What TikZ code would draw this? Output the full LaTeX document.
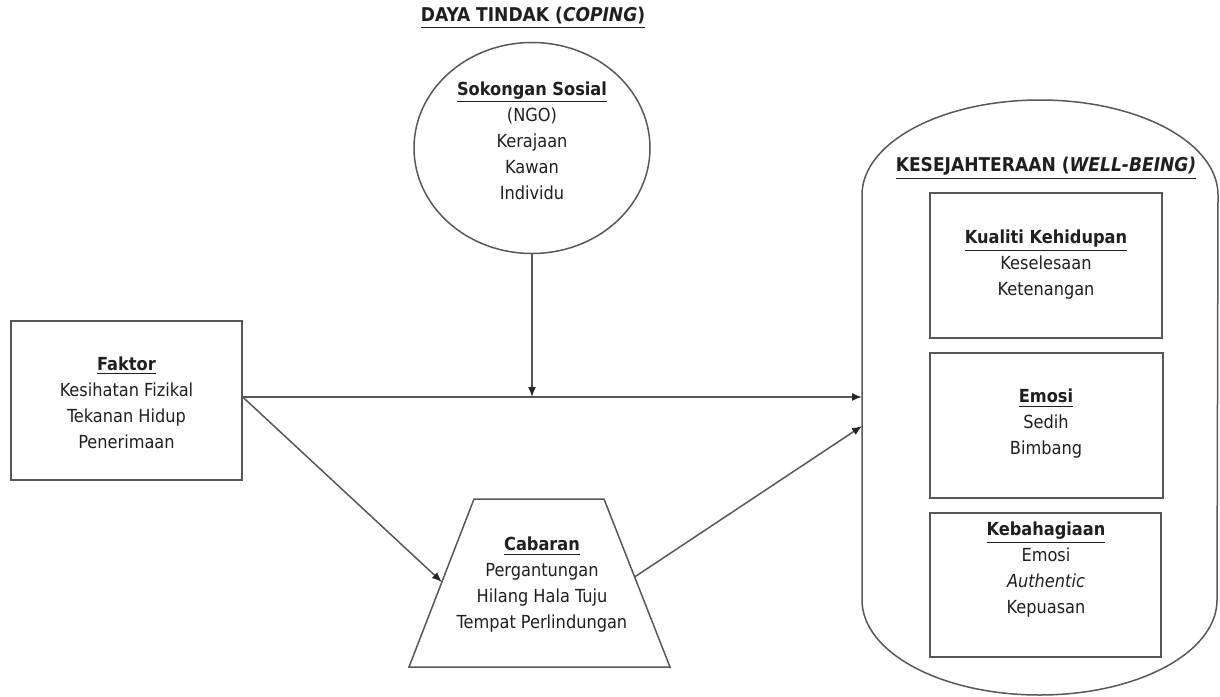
\documentclass[tikz,border=0pt]{standalone}
\usepackage{fontspec}
\setmainfont{DejaVu Sans Condensed}[BoldFont={DejaVu Sans Condensed Bold},ItalicFont={DejaVu Sans Condensed Oblique},BoldItalicFont={DejaVu Sans Condensed Bold Oblique}]
\usetikzlibrary{shapes.geometric,arrows.meta,calc}
\begin{document}
\begin{tikzpicture}[x=0.5pt,y=-0.5pt,
  line/.style={draw=black!66,line width=0.75pt},
  arr/.style={line,-{Latex[length=5pt,width=4pt,color=black!85]}},
  txt/.style={align=center,text=black!88,font=\fontsize{9}{13}\selectfont,inner sep=0pt},
  head/.style={txt,font=\fontsize{9.5}{13}\selectfont\bfseries},
  box/.style={line,rectangle,inner sep=0pt}]
\useasboundingbox (0,0) rectangle (1220,696);
% title
\node[head] (title) at (533,18) {\underline{DAYA TINDAK (\textit{COPING})}};
% social support circle
\node[line,ellipse,minimum width=118pt,minimum height=105.5pt,inner sep=0pt] (sok) at (532,148) {};
\node[txt] (soktxt) at (532,140.5) {\textbf{\underline{Sokongan Sosial}}\\(NGO)\\Kerajaan\\Kawan\\Individu};
% factor box
\node[box,minimum width=115.5pt,minimum height=79.5pt] (fak) at (126.5,400.5) {};
\node[txt] (faktxt) at (126.5,402.5) {\textbf{\underline{Faktor}}\\Kesihatan Fizikal\\Tekanan Hidup\\Penerimaan};
% trapezoid
\coordinate (tl) at (474,499);
\coordinate (tr) at (604,499);
\coordinate (br) at (670,667);
\coordinate (bl) at (409,667);
\draw[line] (tl) -- (tr) -- (br) -- (bl) -- cycle;
\node[txt] (cab) at (542,585) {\textbf{\underline{Cabaran}}\\Pergantungan\\Hilang Hala Tuju\\Tempat Perlindungan};
\coordinate (cabL) at ($(tl)!0.494!(bl)$);
\coordinate (cabR) at ($(tr)!0.464!(br)$);
% well-being container
\draw[line] (862,600) -- (862,195) arc[start angle=180,end angle=0,x radius=89pt,y radius=47.5pt] -- (1217,600) arc[start angle=0,end angle=-180,x radius=88.75pt,y radius=47.5pt] -- cycle;
\coordinate (wbA) at (862,397);
\coordinate (wbB) at (862,426);
\node[head] (wbt) at (1046,168) {\underline{KESEJAHTERAAN (\textit{WELL-BEING)}}};
% inner boxes
\node[box,minimum width=116pt,minimum height=72.5pt] (b1) at (1046,265.5) {};
\node[txt] (b1t) at (1046,265) {\textbf{\underline{Kualiti Kehidupan}}\\Keselesaan\\Ketenangan};
\node[box,minimum width=116.5pt,minimum height=72.5pt] (b2) at (1046.5,425.5) {};
\node[txt] (b2t) at (1046,424) {\textbf{\underline{Emosi}}\\Sedih\\Bimbang};
\node[box,minimum width=115.5pt,minimum height=72pt] (b3) at (1045.5,585) {};
\node[txt] (b3t) at (1046,570) {\textbf{\underline{Kebahagiaan}}\\Emosi\\\textit{Authentic}\\Kepuasan};
% connectors
\coordinate (join) at (532,397);
\draw[arr] (fak.east |- wbA) -- (wbA);
\draw[arr] (sok.south) -- (join);
\draw[arr] (fak.east |- wbA) -- (cabL);
\draw[arr] (cabR) -- (wbB);
\end{tikzpicture}
\end{document}
